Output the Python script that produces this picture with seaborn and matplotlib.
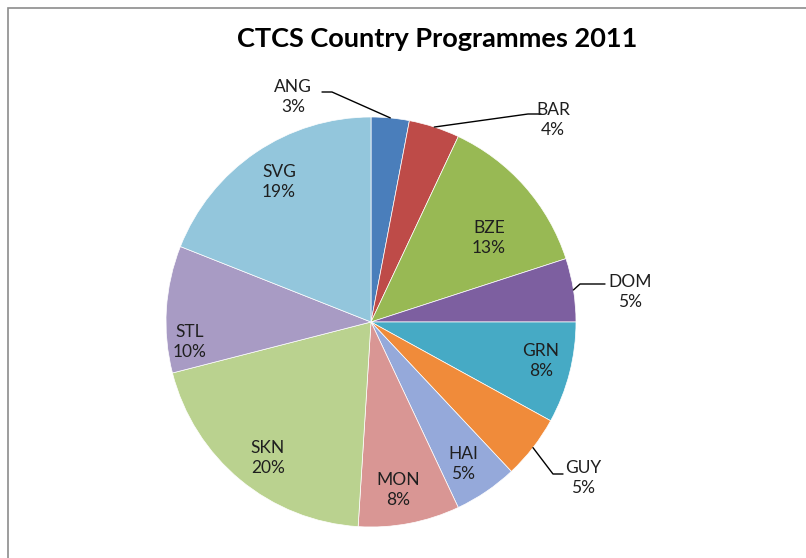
import matplotlib
matplotlib.use("Agg")
import matplotlib.pyplot as plt
import seaborn as sns
import numpy as np
from matplotlib.patches import Rectangle

# ---- data ----
countries = ["ANG", "BAR", "BZE", "DOM", "GRN", "GUY", "HAI", "MON", "SKN", "STL", "SVG"]
shares = [3, 4, 13, 5, 8, 5, 5, 8, 20, 10, 19]
colors = ["#4A7EBB", "#BE4B48", "#98B954", "#7D5FA0", "#46AAC5", "#F08B3A",
          "#95A9DA", "#D99694", "#BAD28F", "#A89BC4", "#93C6DC"]
title = "CTCS Country Programmes 2011"

# ---- layout (pixel positions, top-left origin) ----
label_pos = {"ANG": (293, 97), "BAR": (553, 120), "BZE": (489, 238), "DOM": (630, 292),
             "GRN": (541, 361), "GUY": (583, 478), "HAI": (463, 464), "MON": (398, 490),
             "SKN": (268, 458), "STL": (190, 342), "SVG": (279, 182)}
leaders = {"ANG": [(332, 92), (322, 92)],
           "BAR": [(528, 114), (541, 114)],
           "DOM": [(580, 284), (605, 284)],
           "GUY": [(553, 474), (563, 474)]}

sns.set_theme(style="white")
plt.rcParams['font.family'] = ['Lato', 'DejaVu Sans']

W, H = 806, 558
fig = plt.figure(figsize=(W / 100, H / 100), dpi=100)
ax = fig.add_axes([0, 0, 1, 1])
cx, cy, R = 371, H - 322, 205
wedges, _ = ax.pie(shares, colors=colors, startangle=90, counterclock=False,
                   center=(cx, cy), radius=R,
                   wedgeprops=dict(edgecolor='white', linewidth=0.5))
ax.set_xlim(0, W)
ax.set_ylim(0, H)
ax.set_aspect('equal')
ax.axis('off')

for w, name, val in zip(wedges, countries, shares):
    px, py = label_pos[name]
    ax.text(px, H - py, f"{name}\n{val}%", ha='center', va='center',
            fontsize=12.5, color='#1F1F1F', linespacing=1.3)
    if name in leaders:
        mid = np.deg2rad((w.theta1 + w.theta2) / 2)
        ex, ey = cx + R * np.cos(mid), cy + R * np.sin(mid)
        xs = [ex] + [p[0] for p in leaders[name]]
        ys = [ey] + [H - p[1] for p in leaders[name]]
        ax.plot(xs, ys, color='black', lw=1)

ax.text(437, H - 47, title, ha='center', va='baseline', fontsize=19.5,
        fontweight='bold', color='black')

ax.add_patch(Rectangle((8, -20), 900, H - 8 + 20, fill=False,
                       edgecolor='#8C8C8C', lw=1.2, clip_on=False))

fig.savefig("out.png", dpi=100)
